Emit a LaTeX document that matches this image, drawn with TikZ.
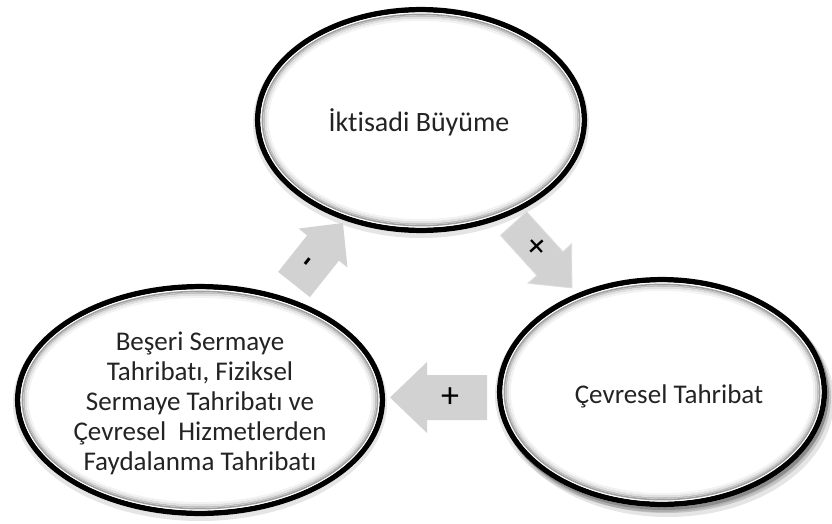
\documentclass[tikz,border=0pt]{standalone}
\usepackage{fontspec}
\setmainfont[Ligatures=NoCommon]{Carlito}
\usetikzlibrary{shapes.geometric}
\definecolor{arrowgray}{RGB}{210,210,210}
\definecolor{textgray}{RGB}{35,35,35}
\newcommand{\ringset}[3]{%
  \fill[black,opacity=0.10] ([yshift=-3pt]#1) ellipse [x radius=#2+2, y radius=#3+2];
  \fill[white] (#1) ellipse [x radius=#2, y radius=#3];
  \draw[black,line width=5.5pt] (#1) ellipse [x radius=#2-2.7, y radius=#3-2.7];
  \draw[white,line width=1.2pt] (#1) ellipse [x radius=#2-6, y radius=#3-6];
  \draw[gray!75,line width=1.6pt] (#1) ellipse [x radius=#2-7.4, y radius=#3-7.4];
  \draw[gray!50,line width=1.6pt] (#1) ellipse [x radius=#2-9, y radius=#3-9];
  \draw[gray!25,line width=2pt] (#1) ellipse [x radius=#2-10.8, y radius=#3-10.8];
  \draw[gray!10,line width=2pt] (#1) ellipse [x radius=#2-12.8, y radius=#3-12.8];
}
\tikzset{
  bubble/.style={ellipse, inner sep=0pt, align=center, text=textgray},
  blockarrow/.style={fill=arrowgray},
  signlabel/.style={inner sep=0pt, text=black}
}
\begin{document}
\begin{tikzpicture}[x=1pt,y=-1pt]
\useasboundingbox (0,0) rectangle (832,523);
\coordinate (gc) at (421,120);
\coordinate (ec) at (662,392);
\coordinate (hc) at (200,400);
% soft shadow under the right ellipse
\fill[black,opacity=0.10] (668,400) ellipse [x radius=166, y radius=117];
\fill[black,opacity=0.15] (666,397) ellipse [x radius=165, y radius=116];
\fill[black,opacity=0.20] (664,395) ellipse [x radius=165, y radius=115];
\ringset{gc}{166}{113}
\ringset{ec}{165}{115}
\ringset{hc}{185}{116}
% texts
\node[bubble, font=\fontsize{28}{33}\selectfont] (growth) at (419,122) {İktisadi Büyüme};
\node[bubble, font=\fontsize{27}{31}\selectfont] (env) at (669,396) {Çevresel Tahribat};
\node[bubble, font=\fontsize{27}{30}\selectfont] (human) at (200,403) {Beşeri Sermaye\\Tahribatı, Fiziksel\\Sermaye Tahribatı ve\\Çevresel\ \ Hizmetlerden\\Faydalanma Tahribatı};
% arrow growth -> env (+)
\begin{scope}[shift={(513.5,223.5)}, rotate=-47.8]
  \draw[blockarrow, draw=gray!25, line width=0.8pt] (0,-17.7) -- (54,-17.7) -- (54,-29.5) -- (87,0) -- (54,29.5) -- (54,17.7) -- (0,17.7) -- cycle;
  \node[signlabel, transform shape, font=\fontsize{36}{36}\selectfont] (plusA) at (33,0) {+};
\end{scope}
% arrow env -> human (+)
\begin{scope}[shift={(487,397.5)}, rotate=180]
  \fill[blockarrow] (0,-22.5) -- (60,-22.5) -- (60,-35.5) -- (97,0) -- (60,35.5) -- (60,22.5) -- (0,22.5) -- cycle;
\end{scope}
\node[signlabel, font=\fontsize{36}{36}\selectfont] (plusB) at (450,398) {+};
% arrow human -> growth (-)
\begin{scope}[shift={(294,284.5)}, rotate=51.5]
  \fill[blockarrow] (0,-20.3) -- (46.6,-20.3) -- (46.6,-31.3) -- (78.6,0) -- (46.6,31.3) -- (46.6,20.3) -- (0,20.3) -- cycle;
  \node[signlabel, transform shape, font=\bfseries\fontsize{30}{30}\selectfont] (minusA) at (26,0) {-};
\end{scope}
\end{tikzpicture}
\end{document}
